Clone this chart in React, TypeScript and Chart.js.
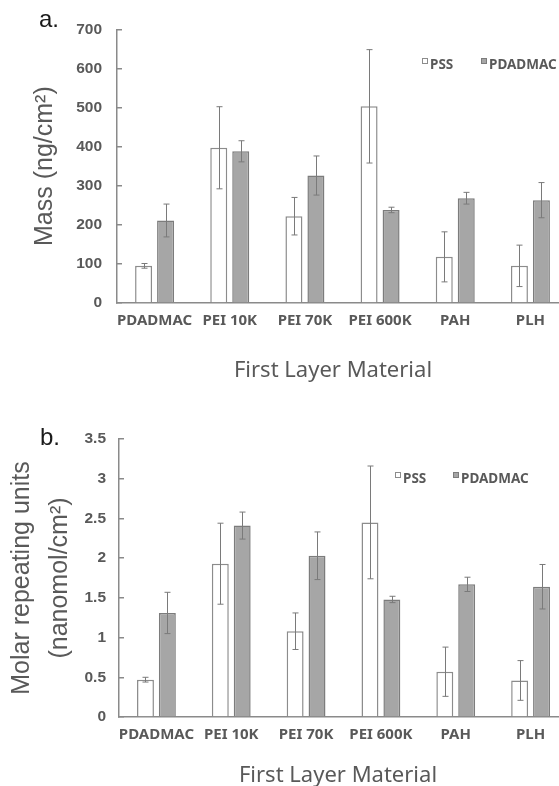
import { useEffect, useRef } from "react";
import { Chart, registerables } from "chart.js";

Chart.register(...registerables);

// Shared categories and series names
const CATEGORIES = ["PDADMAC", "PEI 10K", "PEI 70K", "PEI 600K", "PAH", "PLH"];
const SERIES = ["PSS", "PDADMAC"];

// Panel a: adsorbed mass (ng/cm²)
const MASS_PSS = [95, 397, 222, 503, 118, 95];
const MASS_PSS_ERR = [6, 105, 48, 145, 64, 53];
const MASS_PDADMAC = [211, 388, 326, 238, 268, 263];
const MASS_PDADMAC_ERR = [42, 27, 50, 7, 15, 45];
const MASS_TICKS = [0, 100, 200, 300, 400, 500, 600, 700];

// Panel b: molar repeating units (nanomol/cm²)
const MOLAR_PSS = [0.47, 1.93, 1.08, 2.45, 0.57, 0.46];
const MOLAR_PSS_ERR = [0.03, 0.51, 0.23, 0.71, 0.31, 0.25];
const MOLAR_PDADMAC = [1.31, 2.41, 2.03, 1.48, 1.67, 1.64];
const MOLAR_PDADMAC_ERR = [0.26, 0.17, 0.3, 0.04, 0.09, 0.28];
const MOLAR_TICKS = [0, 0.5, 1, 1.5, 2, 2.5, 3, 3.5];

const TEXT = "#595959";
const AXIS = "#8a8a8a";
const SANS = '"Liberation Sans", Arial, sans-serif';
const NOTO = '"Noto Sans", "Open Sans", sans-serif';

type PanelSpec = {
  letter: string;
  letterPos: [number, number];
  top: number;
  height: number;
  plotTop: number;
  plotBottom: number;
  axisWidth: number;
  yTitle: string | string[];
  yTitleLineHeight: number;
  yTitlePad: number;
  tickPad: number;
  ticks: number[];
  pss: number[];
  pssErr: number[];
  pdadmac: number[];
  pdadmacErr: number[];
  legendPos: [number, number][];
  xTitlePos: [number, number];
};

const PANEL_A: PanelSpec = {
  letter: "a.",
  letterPos: [39, 27],
  top: 0,
  height: 393,
  plotTop: 17,
  plotBottom: 303,
  axisWidth: 117,
  yTitle: "Mass (ng/cm²)",
  yTitleLineHeight: 1.2,
  yTitlePad: 30,
  tickPad: 20,
  ticks: MASS_TICKS,
  pss: MASS_PSS,
  pssErr: MASS_PSS_ERR,
  pdadmac: MASS_PDADMAC,
  pdadmacErr: MASS_PDADMAC_ERR,
  legendPos: [
    [422, 58],
    [481, 58],
  ],
  xTitlePos: [333, 377],
};

const PANEL_B: PanelSpec = {
  letter: "b.",
  letterPos: [40, 52],
  top: 393,
  height: 393,
  plotTop: 46,
  plotBottom: 324,
  axisWidth: 119,
  yTitle: ["Molar repeating units", "(nanomol/cm²)"],
  yTitleLineHeight: 1.54,
  yTitlePad: 2.75,
  tickPad: 18,
  ticks: MOLAR_TICKS,
  pss: MOLAR_PSS,
  pssErr: MOLAR_PSS_ERR,
  pdadmac: MOLAR_PDADMAC,
  pdadmacErr: MOLAR_PDADMAC_ERR,
  legendPos: [
    [395, 472],
    [453, 472],
  ].map(([x, y]) => [x, y - 393] as [number, number]),
  xTitlePos: [338, 389],
};

// Vertical error bars with caps, drawn on top of each bar
function errorBars(errors: number[][]) {
  return {
    id: "errorBars",
    afterDatasetsDraw(chart: any) {
      const { ctx } = chart;
      const y = chart.scales.y;
      const cap = 3;
      ctx.save();
      ctx.strokeStyle = "#7a7a7a";
      ctx.lineWidth = 1;
      chart.data.datasets.forEach((ds: any, i: number) => {
        chart.getDatasetMeta(i).data.forEach((bar: any, j: number) => {
          const v = ds.data[j] as number;
          const e = errors[i][j];
          const hi = y.getPixelForValue(v + e);
          const lo = y.getPixelForValue(v - e);
          const x = Math.round(bar.x) + 0.5;
          ctx.beginPath();
          ctx.moveTo(x, hi);
          ctx.lineTo(x, lo);
          ctx.moveTo(x - cap, hi);
          ctx.lineTo(x + cap, hi);
          ctx.moveTo(x - cap, lo);
          ctx.lineTo(x + cap, lo);
          ctx.stroke();
        });
      });
      ctx.restore();
    },
  };
}

// Panel letter, inline legend and category-axis caption
function decorations(spec: PanelSpec) {
  return {
    id: "decorations",
    afterDraw(chart: any) {
      const { ctx } = chart;
      ctx.save();
      ctx.fillStyle = "#1a1a1a";
      ctx.font = `24px ${SANS}`;
      ctx.textAlign = "left";
      ctx.textBaseline = "alphabetic";
      ctx.fillText(spec.letter, spec.letterPos[0], spec.letterPos[1]);

      ctx.font = `bold 13.5px ${NOTO}`;
      chart.data.datasets.forEach((ds: any, i: number) => {
        const [x, y] = spec.legendPos[i];
        ctx.fillStyle = ds.backgroundColor;
        ctx.fillRect(x, y, 5, 5);
        ctx.strokeStyle = ds.borderColor;
        ctx.lineWidth = 1;
        ctx.strokeRect(x + 0.5, y + 0.5, 5, 5);
        ctx.fillStyle = TEXT;
        ctx.fillText(ds.label, x + 8, y + 10.5);
      });

      ctx.font = `22px ${NOTO}`;
      ctx.textAlign = "center";
      ctx.fillStyle = TEXT;
      ctx.fillText("First Layer Material", spec.xTitlePos[0], spec.xTitlePos[1]);
      ctx.restore();
    },
  };
}

function Panel({ spec }: { spec: PanelSpec }) {
  const ref = useRef<HTMLCanvasElement | null>(null);

  useEffect(() => {
    if (!ref.current) return;
    const chart = new Chart(ref.current, {
      type: "bar",
      data: {
        labels: CATEGORIES,
        datasets: [
          {
            label: SERIES[0],
            data: spec.pss,
            backgroundColor: "#ffffff",
            borderColor: "#8c8c8c",
            borderWidth: 1.5,
            borderSkipped: "start",
          },
          {
            label: SERIES[1],
            data: spec.pdadmac,
            backgroundColor: "#a6a6a6",
            borderColor: "#7c7c7c",
            borderWidth: 1.5,
            borderSkipped: "start",
          },
        ],
      },
      options: {
        responsive: false,
        animation: false,
        events: [],
        layout: { padding: { top: spec.plotTop, right: 2, left: 0, bottom: 0 } },
        datasets: { bar: { categoryPercentage: 0.585, barPercentage: 0.773 } },
        plugins: { legend: { display: false }, tooltip: { enabled: false } },
        scales: {
          x: {
            type: "category",
            grid: { display: false, drawTicks: false },
            border: { display: true, color: AXIS, width: 1.5 },
            ticks: {
              color: TEXT,
              font: { family: NOTO, size: 15, weight: "bold" },
              padding: 9,
              maxRotation: 0,
              autoSkip: false,
            },
            afterFit: (s: any) => {
              s.height = spec.height - spec.plotBottom;
            },
          },
          y: {
            min: spec.ticks[0],
            max: spec.ticks[spec.ticks.length - 1],
            grid: {
              drawOnChartArea: false,
              drawTicks: true,
              tickLength: -5,
              color: AXIS,
              lineWidth: 1.5,
            },
            border: { display: true, color: AXIS, width: 1.5 },
            ticks: {
              color: TEXT,
              font: { family: SANS, size: 15.5, weight: "bold" },
              padding: spec.tickPad,
              callback: (v: any) => String(v),
            },
            afterBuildTicks: (s: any) => {
              s.ticks = spec.ticks.map((value) => ({ value }));
            },
            afterFit: (s: any) => {
              s.width = spec.axisWidth;
            },
            title: {
              display: true,
              text: spec.yTitle,
              color: TEXT,
              font: { family: SANS, size: 25, lineHeight: spec.yTitleLineHeight },
              padding: { top: spec.yTitlePad, bottom: 0 },
            },
          },
        },
      },
      plugins: [
        errorBars([spec.pssErr, spec.pdadmacErr]),
        decorations(spec),
      ],
    } as any);
    return () => chart.destroy();
  }, [spec]);

  return (
    <canvas
      ref={ref}
      width={570}
      height={spec.height}
      style={{ position: "absolute", left: 0, top: spec.top, display: "block" }}
    />
  );
}

export default function App() {
  return (
    <div
      style={{
        position: "absolute",
        left: 0,
        top: 0,
        width: 559,
        height: 786,
        overflow: "hidden",
        background: "#ffffff",
      }}
    >
      <Panel spec={PANEL_A} />
      <Panel spec={PANEL_B} />
    </div>
  );
}
